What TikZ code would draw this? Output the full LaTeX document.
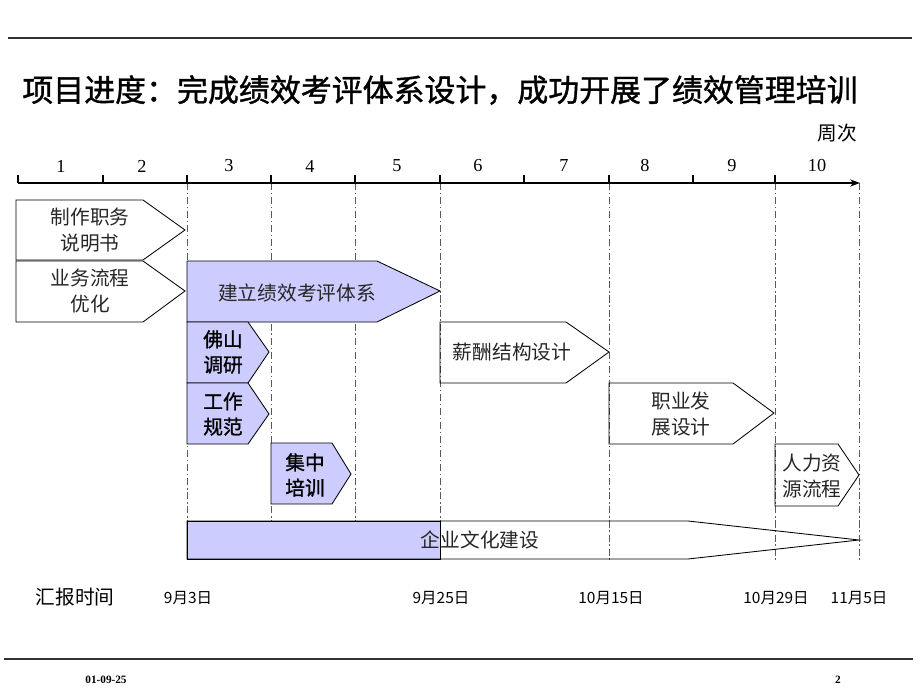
\documentclass[tikz,border=0pt]{standalone}
\usepackage{fontspec}
\setmainfont{Liberation Serif}
\newfontfamily\cjk{Noto Sans CJK SC}
\newfontfamily\cjkb[FakeBold=1.2]{Noto Sans CJK SC}
\usetikzlibrary{arrows.meta}

\definecolor{lila}{RGB}{204,204,255}

\begin{document}
\begin{tikzpicture}[x=0.025cm,y=-0.025cm,
  fase/.style={draw=black,line width=0.6pt},
  faselila/.style={fase,fill=lila},
  guia/.style={black!65,line width=0.6pt,dash pattern=on 5pt off 2pt on 1pt off 2pt},
  etiq/.style={font=\cjk\fontsize{14}{19}\selectfont,align=center,text=black!85},
  etiqb/.style={font=\cjkb\fontsize{14}{18}\selectfont,align=center},
  fecha/.style={font=\cjk\fontsize{11}{13}\selectfont}]
  \useasboundingbox (0,0) rectangle (920,690);

  % Líneas de cabecera y pie
  \draw[black!80,line width=1pt] (8,38) -- (912,38);
  \draw[black!80,line width=1pt] (4,659) -- (913,659);

  % Título
  \node[font=\cjkb\fontsize{22}{26}\selectfont] (titulo) at (440,90)
    {项目进度：完成绩效考评体系设计，成功开展了绩效管理培训};
  \node[font=\cjk\fontsize{14}{17}\selectfont] (zhouci) at (837,133) {周次};

  % Guías verticales
  \foreach \x in {187,271,355,440,609,775,859}
    \draw[guia] (\x,183) -- (\x,560);

  % Eje de semanas
  \draw[line width=1.3pt,-{Stealth[length=7pt,width=5pt]}] (18,183) -- (860,183);
  \foreach \x in {18,103,187,271,355,440,524,609,693,775}
    \draw[line width=1.2pt] (\x,175) -- (\x,183);
  \foreach \x/\n in {61/1,142/2,229/3,310/4,397/5,478/6,564/7,645/8,732/9,817/10}
    \node[font=\fontsize{13}{15}\selectfont] (sem\n) at (\x,166) {\n};

  % Fases
  \draw[fase] (16,200) -- (143,200) -- (185,230) -- (143,260) -- (16,260) -- cycle;
  \draw[fase] (16,261) -- (143,261) -- (185,291) -- (143,322) -- (16,322) -- cycle;
  \draw[faselila] (187,261) -- (377,261) -- (440,291) -- (377,322) -- (187,322) -- cycle;
  \draw[faselila] (187,322) -- (248,322) -- (269,352) -- (248,383) -- (187,383) -- cycle;
  \draw[faselila] (187,383) -- (248,383) -- (269,414) -- (248,444) -- (187,444) -- cycle;
  \draw[faselila] (271,443) -- (332,443) -- (351,474) -- (332,504) -- (271,504) -- cycle;
  \draw[fase] (440,322) -- (566,322) -- (609,352) -- (566,383) -- (440,383) -- cycle;
  \draw[fase] (609,383) -- (733,383) -- (774,413) -- (733,444) -- (609,444) -- cycle;
  \draw[fase] (775,444) -- (838,444) -- (859,475) -- (838,506) -- (775,506) -- cycle;

  % Barra de cultura
  \draw[faselila] (187,521) rectangle (440,559);
  \draw[fase] (187,521) -- (688,521) -- (859,540) -- (688,559) -- (187,559) -- cycle;

  % Textos de fases
  \node[etiq] (zhiwu) at (90,230) {制作职务\\说明书};
  \node[etiq] (liucheng) at (90,291) {业务流程\\优化};
  \node[etiq] (tixi) at (297,293) {建立绩效考评体系};
  \node[etiqb] (foshan) at (223,352) {佛山\\调研};
  \node[etiqb] (guifan) at (223,414) {工作\\规范};
  \node[etiqb] (peixun) at (305,475) {集中\\培训};
  \node[etiq] (xinchou) at (512,352) {薪酬结构设计};
  \node[etiq] (zhiye) at (681,414) {职业发\\展设计};
  \node[etiq] (renli) at (812,476) {人力资\\源流程};
  \node[etiq] (wenhua) at (480,540) {企业文化建设};

  % Fechas de informe
  \node[font=\cjk\fontsize{14}{17}\selectfont] (huibao) at (75,597) {汇报时间};
  \node[fecha] (f1) at (188,598) {9月3日};
  \node[fecha] (f2) at (441,598) {9月25日};
  \node[fecha] (f3) at (611,598) {10月15日};
  \node[fecha] (f4) at (776,598) {10月29日};
  \node[fecha] (f5) at (859,598) {11月5日};

  % Pie
  \node[font=\bfseries\fontsize{8}{10}\selectfont] (fechapie) at (106,680) {01-09-25};
  \node[font=\bfseries\fontsize{8}{10}\selectfont] (pagina) at (838,680) {2};
\end{tikzpicture}
\end{document}
